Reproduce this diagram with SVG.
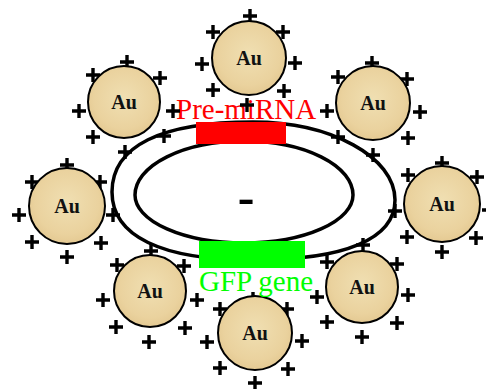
<svg xmlns="http://www.w3.org/2000/svg" xmlns:xlink="http://www.w3.org/1999/xlink" width="486" height="389" viewBox="0 0 486 389">
<style>
.ring{fill:none;stroke:#000;stroke-width:3.5}
.plus{stroke:#000;stroke-width:3.4;fill:none}
.au{fill:url(#gold);stroke:#000;stroke-width:2}
.aut{font-family:"Liberation Serif","Times New Roman",serif;font-weight:bold;font-size:20px;fill:#111;text-anchor:middle}
.lbl{font-family:"Liberation Serif","Times New Roman",serif;font-size:29px}
</style>
<defs>
<radialGradient id="gold" cx="50%" cy="45%" r="60%">
<stop offset="0" stop-color="#F0DFB2"/>
<stop offset="0.7" stop-color="#EAD29E"/>
<stop offset="1" stop-color="#E2C68E"/>
</radialGradient>
<path id="p" class="plus" d="M-7,0H7M0,-7V7"/>
</defs>
<rect width="486" height="389" fill="#fff"/>

<g id="plasmid">
<path class="ring" d="M253,122 C331,122 395,157 395,200 C395,239 345,260 253,260 C161,260 112,236 112,192 C112,146 161,122 253,122 Z"/>
<path class="ring" d="M135,195 A109,54 0 0 1 353,195 A109,48 0 0 1 135,195 Z"/>
<rect x="196" y="122" width="90" height="22" fill="#FF0000"/>
<rect x="199" y="241" width="106" height="27" fill="#00FF00"/>
<text x="246" y="214" text-anchor="middle" font-family="'Liberation Serif','Times New Roman',serif" font-weight="bold" font-size="50">-</text>
<text id="lbl-pre" class="lbl" x="176" y="119" fill="#FF0000">Pre-miRNA</text>
</g>

<g id="au1">
<use xlink:href="#p" x="250" y="16"/><use xlink:href="#p" x="213" y="32"/><use xlink:href="#p" x="283" y="32"/>
<use xlink:href="#p" x="202" y="64"/><use xlink:href="#p" x="295" y="63"/><use xlink:href="#p" x="213" y="90"/>
<use xlink:href="#p" x="284" y="91"/><use xlink:href="#p" x="247" y="105"/>
<circle class="au" cx="249" cy="58" r="37"/>
<text class="aut" x="249" y="65">Au</text>
</g>

<g id="au2">
<use xlink:href="#p" x="127" y="62"/><use xlink:href="#p" x="93" y="75"/><use xlink:href="#p" x="160" y="78"/>
<use xlink:href="#p" x="79" y="111"/><use xlink:href="#p" x="173" y="111"/><use xlink:href="#p" x="93" y="137"/>
<use xlink:href="#p" x="164" y="136"/><use xlink:href="#p" x="125" y="152"/>
<circle class="au" cx="124" cy="102" r="36"/>
<text class="aut" x="124" y="109">Au</text>
</g>

<g id="au3">
<use xlink:href="#p" x="372" y="63"/><use xlink:href="#p" x="338" y="77"/><use xlink:href="#p" x="407" y="79"/>
<use xlink:href="#p" x="327" y="111"/><use xlink:href="#p" x="420" y="112"/><use xlink:href="#p" x="408" y="138"/>
<use xlink:href="#p" x="338" y="137"/><use xlink:href="#p" x="373" y="155"/>
<circle class="au" cx="373" cy="103" r="37"/>
<text class="aut" x="373" y="110">Au</text>
</g>

<g id="au4">
<use xlink:href="#p" x="67" y="165"/><use xlink:href="#p" x="32" y="182"/><use xlink:href="#p" x="100" y="182"/>
<use xlink:href="#p" x="19" y="215"/><use xlink:href="#p" x="113" y="215"/><use xlink:href="#p" x="32" y="242"/>
<use xlink:href="#p" x="101" y="243"/><use xlink:href="#p" x="67" y="257"/>
<circle class="au" cx="67" cy="206" r="38"/>
<text class="aut" x="67" y="213">Au</text>
</g>

<g id="au5">
<use xlink:href="#p" x="442" y="163"/><use xlink:href="#p" x="408" y="175"/><use xlink:href="#p" x="477" y="177"/>
<use xlink:href="#p" x="395" y="211"/><use xlink:href="#p" x="489" y="210"/><use xlink:href="#p" x="407" y="237"/>
<use xlink:href="#p" x="476" y="238"/><use xlink:href="#p" x="442" y="252"/>
<circle class="au" cx="442" cy="204" r="38"/>
<text class="aut" x="442" y="211">Au</text>
</g>

<g id="au6">
<use xlink:href="#p" x="151" y="251"/><use xlink:href="#p" x="117" y="265"/><use xlink:href="#p" x="184" y="266"/>
<use xlink:href="#p" x="103" y="300"/><use xlink:href="#p" x="197" y="300"/><use xlink:href="#p" x="116" y="327"/>
<use xlink:href="#p" x="185" y="328"/><use xlink:href="#p" x="149" y="342"/>
<circle class="au" cx="150" cy="291" r="36"/>
<text class="aut" x="150" y="298">Au</text>
</g>

<g id="au7">
<use xlink:href="#p" x="253" y="299"/><use xlink:href="#p" x="220" y="309"/><use xlink:href="#p" x="287" y="309"/>
<use xlink:href="#p" x="207" y="342"/><use xlink:href="#p" x="302" y="341"/><use xlink:href="#p" x="220" y="368"/>
<use xlink:href="#p" x="288" y="369"/><use xlink:href="#p" x="255" y="383"/>
<circle class="au" cx="255" cy="333" r="37"/>
<text class="aut" x="255" y="340">Au</text>
</g>

<g id="au8">
<use xlink:href="#p" x="363" y="245"/><use xlink:href="#p" x="327" y="262"/><use xlink:href="#p" x="397" y="264"/>
<use xlink:href="#p" x="317" y="297"/><use xlink:href="#p" x="408" y="295"/><use xlink:href="#p" x="327" y="322"/>
<use xlink:href="#p" x="397" y="323"/><use xlink:href="#p" x="362" y="337"/>
<circle class="au" cx="362" cy="287" r="36"/>
<text class="aut" x="362" y="294">Au</text>
</g>

<g id="lbl-gfp">
<text class="lbl" x="199" y="291" fill="#00FF00">GFP gene</text>
</g>
</svg>
